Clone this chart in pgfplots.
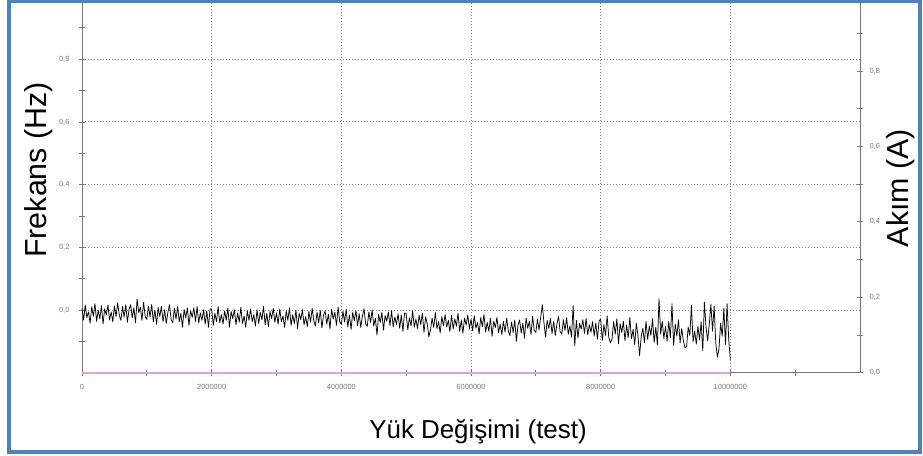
\documentclass[border=0pt]{standalone}
\usepackage{pgfplots}
\pgfplotsset{compat=1.18}
\usepackage{pgfplotstable}
\usepackage{fontspec}
\setmainfont{Liberation Sans}
\definecolor{frameblue}{RGB}{79,129,189}
\definecolor{axgray}{RGB}{120,120,120}
\definecolor{gridgray}{RGB}{130,130,130}
\definecolor{pinkline}{RGB}{228,160,232}

% Frekans values in thousandths of Hz, one every 25000 load cycles (0 ... 10000000)
\pgfplotstableread[row sep=\\]{
v\\
4\\ -32\\ 16\\ -24\\ -6\\ -42\\ 10\\ -20\\ 20\\ -36\\
0\\ -28\\ 14\\ -44\\ 4\\ -16\\ 16\\ -32\\ -6\\ -38\\
13\\ -21\\ 23\\ -17\\ -33\\ 11\\ -23\\ 17\\ -39\\ 1\\
17\\ -25\\ 7\\ -41\\ 35\\ -9\\ 9\\ -33\\ 25\\ -21\\
-30\\ 12\\ -22\\ 18\\ -38\\ 0\\ -46\\ 8\\ -21\\ 11\\
-37\\ 1\\ -43\\ -7\\ 17\\ -31\\ -41\\ 5\\ -29\\ 11\\
-37\\ -11\\ -55\\ 1\\ -25\\ 7\\ -49\\ -3\\ -23\\ 7\\
-37\\ 11\\ -41\\ -9\\ -33\\ 1\\ -45\\ -3\\ -55\\ 3\\
3\\ -49\\ -11\\ -37\\ 11\\ -41\\ -15\\ -45\\ -3\\ -33\\
7\\ -55\\ -5\\ -27\\ 1\\ -47\\ -9\\ -39\\ 9\\ -43\\
-19\\ -55\\ -3\\ -33\\ 3\\ -37\\ -15\\ -51\\ 1\\ -43\\
-7\\ -31\\ 11\\ -47\\ -11\\ -53\\ -5\\ -27\\ 5\\ -39\\
-9\\ -45\\ 3\\ -37\\ -19\\ -55\\ -3\\ -33\\ 7\\ -49\\
-15\\ -43\\ -1\\ -59\\ -11\\ -31\\ 1\\ -47\\ -21\\ -53\\
-5\\ -39\\ 5\\ -35\\ -51\\ -7\\ -41\\ -1\\ -57\\ -17\\
-3\\ -45\\ -13\\ -61\\ 3\\ -29\\ -7\\ -49\\ 9\\ -37\\
-46\\ -4\\ -38\\ 2\\ -54\\ -16\\ -62\\ -8\\ -34\\ -2\\
-50\\ -12\\ -56\\ -20\\ 4\\ -44\\ -52\\ -6\\ -40\\ 0\\
-52\\ -26\\ -80\\ -14\\ -40\\ -8\\ -64\\ -18\\ -36\\ -6\\
-50\\ -2\\ -54\\ -22\\ -46\\ -12\\ -58\\ -16\\ -68\\ -10\\
-11\\ -63\\ -25\\ -51\\ -3\\ -55\\ -29\\ -59\\ -17\\ -47\\
-10\\ -72\\ -22\\ -44\\ -85\\ -64\\ -26\\ -56\\ -8\\ -60\\
-37\\ -73\\ -21\\ -51\\ -15\\ -55\\ -33\\ -69\\ -17\\ -61\\
-28\\ -52\\ -10\\ -68\\ -32\\ -74\\ -26\\ -48\\ -16\\ -60\\
-30\\ -66\\ -18\\ -58\\ -40\\ -76\\ -24\\ -54\\ -14\\ -70\\
-40\\ -68\\ -26\\ -84\\ -36\\ -56\\ -24\\ -72\\ -46\\ -78\\
-36\\ -70\\ -26\\ -66\\ -82\\ -38\\ -72\\ -32\\ -100\\ -48\\
-32\\ -74\\ -42\\ -90\\ -26\\ -58\\ -36\\ -78\\ -20\\ -66\\
-71\\ -29\\ -63\\ -23\\ 17\\ -41\\ -87\\ -33\\ -59\\ -27\\
-75\\ -37\\ -81\\ -45\\ -21\\ -69\\ -77\\ -31\\ -65\\ -25\\
-77\\ -51\\ -87\\ 14\\ -114\\ -33\\ -89\\ -43\\ -61\\ -31\\
-75\\ -27\\ -79\\ -47\\ -71\\ -37\\ -83\\ -41\\ -93\\ -35\\
-29\\ -97\\ -47\\ -81\\ -19\\ -87\\ -105\\ -93\\ -37\\ -77\\
-28\\ -108\\ -44\\ -72\\ -36\\ -98\\ -48\\ -88\\ -24\\ -92\\
-62\\ -110\\ -42\\ -82\\ -145\\ -86\\ -58\\ -104\\ -36\\ -94\\
-51\\ -81\\ -27\\ -103\\ -55\\ -111\\ 36\\ -77\\ -35\\ -91\\
-53\\ -99\\ -37\\ -89\\ 20\\ -113\\ -45\\ -83\\ -31\\ -105\\
-59\\ -97\\ -120\\ -117\\ -55\\ -81\\ 15\\ -101\\ -67\\ -109\\
-52\\ -96\\ -38\\ -130\\ 25\\ -54\\ -98\\ -46\\ 18\\ -68\\
12\\ -104\\ -150\\ -124\\ -42\\ -84\\ 5\\ -110\\ 20\\ -94\\
-160\\
}\freq

\begin{document}
\begin{tikzpicture}[x=1bp,y=1bp]
\useasboundingbox (0bp,0bp) rectangle (923bp,456bp);
\begin{axis}[
  at={(82bp,83.3bp)}, anchor=south west, scale only axis,
  width=778bp, height=370.7bp,
  xmin=0, xmax=12, ymin=-200, ymax=982.5,
  axis x line*=bottom, axis y line*=left,
  axis line style={-, draw=axgray, line width=0.9bp},
  xtick={0,2,4,6,8,10},
  xticklabels={0,2000000,4000000,6000000,8000000,10000000},
  minor xtick={1,3,5,7,9,11},
  ytick={0,200,400,600,800},
  yticklabels={{0,0},{0,2},{0,4},{0,6},{0,8}},
  minor ytick={-100,100,300,500,700,900},
  tick align=center, major tick length=6bp, minor tick length=6bp,
  tick style={draw=axgray, line width=0.8bp},
  grid=major,
  major grid style={draw=gridgray, line width=0.9bp, dash pattern=on 1bp off 2bp},
  ticklabel style={font=\fontsize{7.5}{8}\selectfont, text=axgray},
  xticklabel style={yshift=-5bp},
  yticklabel style={xshift=-6bp},
  xlabel={Yük Değişimi (test)},
  ylabel={Frekans (Hz)},
  xlabel style={font=\fontsize{26}{30}\selectfont, at={(axis description cs:0.509,-0.160)}, anchor=center},
  ylabel style={font=\fontsize{30.5}{34}\selectfont, at={(axis description cs:-0.0553,0.547)}, anchor=center},
  clip=false,
]
\addplot[black, line width=0.75bp, line join=round] table[x expr=\coordindex*0.025, y=v] {\freq};
\end{axis}
\begin{axis}[
  at={(82bp,83.3bp)}, anchor=south west, scale only axis,
  width=778bp, height=370.7bp,
  xmin=0, xmax=12, ymin=0, ymax=0.983,
  axis x line=none, axis y line*=right,
  axis line style={-, draw=axgray, line width=0.9bp},
  ytick={0,0.2,0.4,0.6,0.8},
  yticklabels={{0,0},{0,2},{0,4},{0,6},{0,8}},
  minor ytick={0.1,0.3,0.5,0.7,0.9},
  tick align=center, major tick length=6bp, minor tick length=6bp,
  tick style={draw=axgray, line width=0.8bp},
  ticklabel style={font=\fontsize{7.5}{8}\selectfont, text=axgray},
  yticklabel style={xshift=3bp},
  ylabel={Akım (A)},
  ylabel style={font=\fontsize{30.5}{34}\selectfont, at={(axis description cs:1.0527,0.498)}, anchor=center, rotate=0},
  clip=false,
]
\addplot[pinkline, line width=1.8bp] coordinates {(0,0) (10,0)};
\end{axis}
\draw[frameblue, line width=4bp] (9bp,3.5bp) rectangle (919.5bp,454.5bp);
\end{tikzpicture}
\end{document}
